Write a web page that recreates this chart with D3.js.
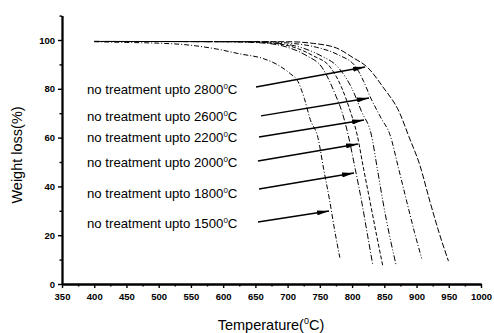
<!DOCTYPE html>
<html><head><meta charset="utf-8">
<script src="https://cdn.jsdelivr.net/npm/d3@7/dist/d3.min.js"></script>
<style>body{margin:0;background:#fff}svg{display:block}</style>
</head><body>
<svg id="c" width="494" height="333"></svg>
<script>
// Data
const xTicks = [350,400,450,500,550,600,650,700,750,800,850,900,950,1000];
const yTicks = [0,20,40,60,80,100];
const seriesNames = ["1500","1800","2000","2200","2600","2800"];
const t1500 = [[400,99.3],[450,99.0],[500,98.7],[544,98],[590,96.3],[626,94.3],[662,92.4],[688,89.3],[705,86],[715,83.5],[726,76],[735,67.5],[747,60],[756,47],[765,34.5],[773,22],[781,10.8]];
const t1800 = [[400,99.4],[600,99.3],[660,98.8],[700,97],[730,93.5],[753,88.9],[775,77],[785,70],[794,61],[805,47],[815,33.6],[824,20],[832,8]];
const t2000 = [[400,99.4],[620,99.3],[670,98.8],[710,97],[740,93.5],[766,88.9],[783,81],[797,71],[808,61],[818,47],[828,33.6],[838,20],[847.5,7.6]];
const t2200 = [[400,99.4],[640,99.3],[680,98.8],[720,97],[752,93.5],[778,88.9],[800,80],[815,70.5],[830,61],[839,47.5],[848,33.6],[858,20],[868,8.1]];
const t2600 = [[400,99.4],[660,99.3],[700,98.8],[745,97],[778,94],[806,88.9],[818,83],[829,76.2],[845,68],[859,61],[872,47.5],[885,33.6],[897,21],[908,10.5]];
const t2800 = [[400,99.4],[700,99.3],[740,98.6],[776,96.7],[800,93],[825,88.5],[848,80.7],[874,70],[888,60.5],[905,48.8],[921,33.6],[935,21],[949.5,9.4]];
// label text anchor (temperature, weight) and arrow start/tip
const labelTemps = ["2800","2600","2200","2000","1800","1500"];
const labelPos = [[388.8,79.9],[388.8,68.9],[388.8,60.2],[388.8,50],[388.8,37.3],[388.8,25]];
const arrowFrom = [[651,80.7],[658.7,68.9],[655.6,60.2],[654,50.4],[655.6,38.9],[654,25.4]];
const arrowTo = [[820,88.9],[826.3,76.2],[818.5,67.2],[809.2,57.4],[803,45.5],[764.2,29.9]];

const svg = d3.select("#c");
const x = d3.scaleLinear().domain([350,1000]).range([62,481]);
const y = d3.scaleLinear().domain([0,110]).range([284,15.6]);
const font = "Liberation Sans, Arial, sans-serif";

// axes
const xAxis = d3.axisBottom(x).tickValues(xTicks).tickSize(4).tickSizeOuter(0).tickFormat(d3.format("d"));
const xMinor = d3.axisBottom(x).tickValues(d3.range(375,1000,50)).tickSize(2.5).tickFormat("").tickSizeOuter(0);
const yAxis = d3.axisLeft(y).tickValues(yTicks).tickSize(4).tickSizeOuter(0);
const yMinor = d3.axisLeft(y).tickValues([10,30,50,70,90,110]).tickSize(2.5).tickFormat("").tickSizeOuter(0);

function style(g){
  g.select(".domain").attr("stroke","#000").attr("stroke-width",1.8);
  g.selectAll(".tick line").attr("stroke","#000").attr("stroke-width",1.4);
  g.selectAll(".tick text").attr("font-family",font).attr("font-size","9.5px").attr("font-weight","bold").attr("fill","#000");
}
svg.append("g").attr("transform","translate(0,284)").call(xMinor).call(style);
svg.append("g").attr("transform","translate(0,284)").call(xAxis).call(style)
  .selectAll(".tick text").attr("dy","0.95em");
svg.append("g").attr("transform","translate(62,0)").call(yMinor).call(style);
svg.append("g").attr("transform","translate(62,0)").call(yAxis).call(style)
  .selectAll(".tick text").attr("x",-7);

// axis titles
const xt = svg.append("text").attr("x",271).attr("y",330).attr("text-anchor","middle")
  .attr("font-family",font).attr("font-size","14.5px").attr("fill","#000");
xt.append("tspan").text("Temperature(");
xt.append("tspan").attr("font-size","9px").attr("dy","-6").text("0");
xt.append("tspan").attr("dy","6").text("C)");
svg.append("text").attr("transform","translate(22,155) rotate(-90)").attr("text-anchor","middle")
  .attr("font-family",font).attr("font-size","14.5px").attr("fill","#000").text("Weight loss(%)");

// curves
const series = [t1500,t1800,t2000,t2200,t2600,t2800];
const dashes = ["5,2,1,2","6,2,1,2","4,2","6,2,1,2,1,2","5,2,1,2","6,2"];
const line = d3.line().x(d=>x(d[0])).y(d=>y(d[1])).curve(d3.curveMonotoneX);
svg.append("g").selectAll("path").data(series).join("path")
  .attr("d",line).attr("fill","none").attr("stroke","#000").attr("stroke-width",1)
  .attr("stroke-dasharray",(d,i)=>dashes[i]);

// arrows
svg.append("defs").append("marker").attr("id","ah").attr("viewBox","0 0 12 5")
  .attr("refX",12).attr("refY",2.5).attr("markerWidth",12).attr("markerHeight",5)
  .attr("markerUnits","userSpaceOnUse").attr("orient","auto")
  .append("path").attr("d","M0,0L12,2.5L0,5Z").attr("fill","#000");
svg.append("g").selectAll("line").data(arrowFrom).join("line")
  .attr("x1",d=>x(d[0])).attr("y1",d=>y(d[1]))
  .attr("x2",(d,i)=>x(arrowTo[i][0])).attr("y2",(d,i)=>y(arrowTo[i][1]))
  .attr("stroke","#000").attr("stroke-width",1.5).attr("marker-end","url(#ah)");

// labels
const lg = svg.append("g").selectAll("text").data(labelTemps).join("text")
  .attr("x",(d,i)=>x(labelPos[i][0])).attr("y",(d,i)=>y(labelPos[i][1]))
  .attr("dy","0.35em").attr("font-family",font).attr("font-size","13.2px").attr("fill","#000");
lg.append("tspan").text(d=>"no treatment upto "+d);
lg.append("tspan").attr("font-size","8px").attr("dy","-5").text("0");
lg.append("tspan").attr("dy","5").text("C");
</script>
</body></html>
